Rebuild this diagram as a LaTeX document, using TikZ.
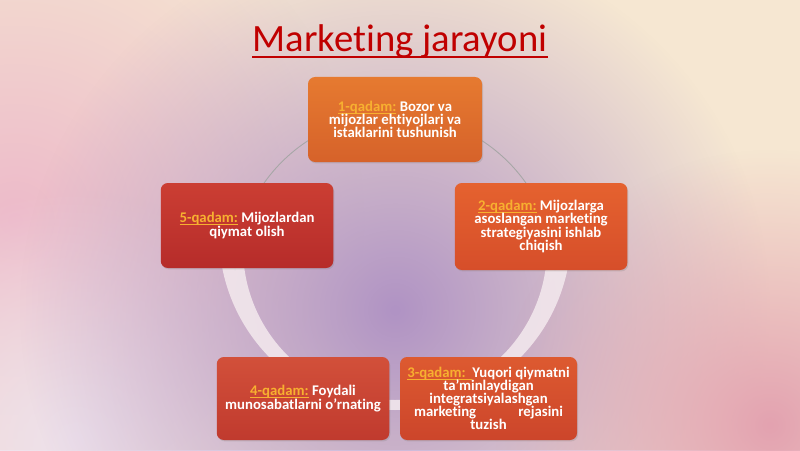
\documentclass[tikz,border=0pt]{standalone}
\usepackage{fontspec}
\setmainfont{Carlito}[Ligatures={TeX,NoCommon}]
\usetikzlibrary{fadings,shadows}
\definecolor{titlered}{HTML}{C00000}
\definecolor{stepgold}{HTML}{F7B030}
\definecolor{bgcream}{HTML}{F6E7D2}
\definecolor{blobpink}{HTML}{EDBACA}
\definecolor{blobpurple}{HTML}{B093C4}
\definecolor{blobrose}{HTML}{E3A2B0}
\definecolor{bloblilac}{HTML}{EEE2EC}
\definecolor{ringwhite}{HTML}{F4EAEE}
\definecolor{onetop}{HTML}{E67A30}
\definecolor{onebot}{HTML}{D6622A}
\definecolor{twotop}{HTML}{E5622F}
\definecolor{twobot}{HTML}{D64E2A}
\definecolor{threetop}{HTML}{DD5A30}
\definecolor{threebot}{HTML}{CC452B}
\definecolor{fourtop}{HTML}{D2503A}
\definecolor{fourbot}{HTML}{C03A2E}
\definecolor{fivetop}{HTML}{CB3E33}
\definecolor{fivebot}{HTML}{B62C2A}
\tikzfading[name=blobfade, inner color=transparent!0, outer color=transparent!100]
\newsavebox\qadambox
\newcommand{\qadam}[1]{\textcolor{stepgold}{\sbox\qadambox{#1}\rlap{\rule[-1.3pt]{\wd\qadambox}{0.5pt}}\usebox\qadambox}}
\tikzset{
  stepbox/.style={rounded corners=4pt, minimum width=3.45cm, minimum height=1.7cm,
    align=center, text=white, font=\fontsize{8.4}{7.5}\selectfont\bfseries,
    drop shadow={opacity=0.25, shadow xshift=0.6pt, shadow yshift=-0.8pt}},
  blob/.style={path fading=blobfade}
}
\begin{document}
\begin{tikzpicture}
  \useasboundingbox (0,0) rectangle (16,9);
  % background
  \fill[bgcream] (0,0) rectangle (16,9);
  \fill[blobpink, blob] (0.3,4.6) circle (7);
  \fill[bloblilac, blob] (1.5,0.2) circle (5);
  \fill[blobpurple, blob] (7.9,2.8) circle (7.5);
  \fill[blobrose, blob] (15.4,0.5) circle (5.5);
  % ring
  \begin{scope}
    \clip (0,3.6) rectangle (16,9);
    \draw[gray!70, line width=0.5pt] (7.9,3.5) circle (3.2);
  \end{scope}
  \begin{scope}
    \clip (0,0) rectangle (16,4.6);
    \fill[ringwhite, opacity=0.85, even odd rule] (7.9,4.32) circle (3.52) (7.9,4.04) circle (3.04);
  \end{scope}
  % title
  \node[font=\fontsize{22}{26}\selectfont, text=titlered, inner sep=0pt, anchor=base] at (8,7.96) (title) {Marketing jarayoni};
  \draw[titlered, line width=0.9pt] ([yshift=-2.8pt]title.base west) -- ([yshift=-2.8pt]title.base east);
  % steps
  \node[stepbox, top color=onetop, bottom color=onebot, minimum width=3.48cm] at (7.9,6.61) (step1)
    {\qadam{1-qadam:} Bozor va\\mijozlar ehtiyojlari va\\istaklarini tushunish};
  \node[stepbox, top color=twotop, bottom color=twobot, minimum height=1.74cm] at (10.82,4.47) (step2)
    {\qadam{2-qadam:} Mijozlarga\\asoslangan marketing\\strategiyasini ishlab\\chiqish};
  \node[stepbox, top color=threetop, bottom color=threebot, minimum width=3.54cm, minimum height=1.66cm] at (9.77,1.03) (step3)
    {\qadam{3-qadam:\ \ }Yuqori qiymatni\\ta'minlaydigan\\integratsiyalashgan\\\makebox[2.98cm]{marketing\hfill rejasini}\\tuzish};
  \node[stepbox, top color=fourtop, bottom color=fourbot, minimum height=1.66cm] at (6.06,1.03) (step4)
    {\qadam{4-qadam:} Foydali\\munosabatlarni o'rnating};
  \node[stepbox, top color=fivetop, bottom color=fivebot] at (4.94,4.49) (step5)
    {\qadam{5-qadam:} Mijozlardan\\qiymat olish};
\end{tikzpicture}
\end{document}
